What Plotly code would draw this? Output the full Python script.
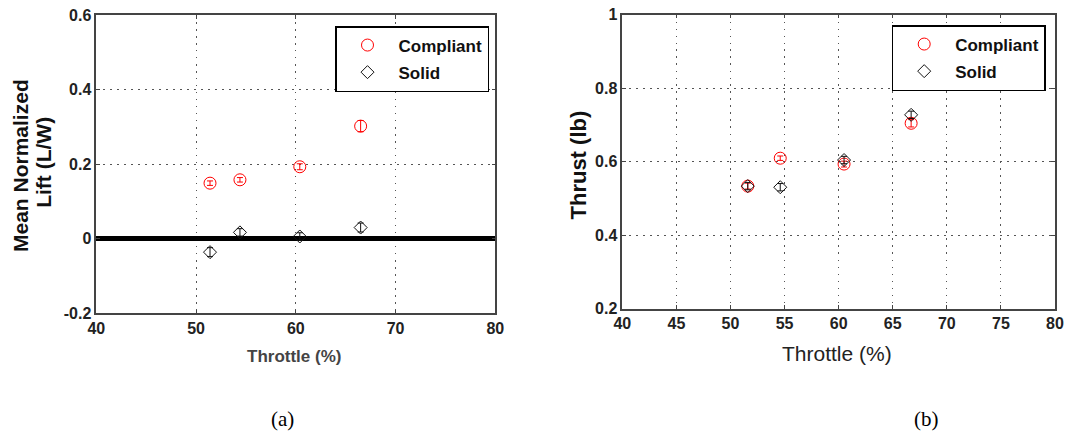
import plotly.graph_objects as go

# ---------------- data ----------------
# (a) Mean normalized lift
throttle_a = [51.4, 54.4, 60.4, 66.5]
lift_compliant = [0.149, 0.158, 0.193, 0.302]
lift_compliant_err = [0.006, 0.006, 0.008, 0.015]
lift_solid = [-0.036, 0.017, 0.006, 0.030]
lift_solid_err = [0.012, 0.010, 0.010, 0.012]

# (b) Thrust
throttle_b = [51.6, 54.6, 60.5, 66.7]
thrust_compliant = [0.533, 0.609, 0.593, 0.704]
thrust_compliant_err = [0.008, 0.006, 0.008, 0.010]
thrust_solid = [0.533, 0.530, 0.604, 0.727]
thrust_solid_err = [0.010, 0.010, 0.010, 0.010]

x_ticks_a = [40, 50, 60, 70, 80]
y_ticks_a = [-0.2, 0, 0.2, 0.4, 0.6]
y_ticklabels_a = ["-0.2", "0", "0.2", "0.4", "0.6"]
x_ticks_b = [40, 45, 50, 55, 60, 65, 70, 75, 80]
y_ticks_b = [0.2, 0.4, 0.6, 0.8, 1.0]
y_ticklabels_b = ["0.2", "0.4", "0.6", "0.8", "1"]

W, H = 1065, 436
RED = "#ff0000"
BLK = "#111111"
SANS = "Liberation Sans"

fig = go.Figure()

def add_series(x, y, err, name, color, symbol, size, xa, ya, legend, group):
    fig.add_trace(go.Scatter(
        x=x, y=y, mode="markers", name=name,
        xaxis=xa, yaxis=ya, legend=legend, legendgroup=group,
        marker=dict(symbol=symbol, size=size, color=color,
                    line=dict(color=color, width=1)),
        error_y=dict(type="data", array=err, color=color, thickness=1, width=3),
    ))

add_series(throttle_a, lift_compliant, lift_compliant_err, "Compliant", RED,
           "circle-open", 12, "x", "y", "legend", "c1")
add_series(throttle_a, lift_solid, lift_solid_err, "Solid", BLK,
           "diamond-open", 10, "x", "y", "legend", "s1")
add_series(throttle_b, thrust_compliant, thrust_compliant_err, "Compliant", RED,
           "circle-open", 12, "x2", "y2", "legend2", "c2")
add_series(throttle_b, thrust_solid, thrust_solid_err, "Solid", BLK,
           "diamond-open", 10, "x2", "y2", "legend2", "s2")

tickfont = dict(family=SANS, size=16, color="#222", weight="bold")
common = dict(
    showline=True, linecolor="#444", linewidth=1.5, mirror="ticks",
    ticks="inside", ticklen=4, tickcolor="#444", tickwidth=1,
    showgrid=True, gridcolor="#555", gridwidth=1.2, griddash="1.5px,5.5px",
    zeroline=False, tickfont=tickfont, automargin=False,
)

def px_x(p):
    return p / W

def px_y(p):
    return 1 - p / H

legend_font = dict(family=SANS, size=17, color="#111", weight="bold")

fig.update_layout(
    width=W, height=H,
    margin=dict(l=0, r=0, t=0, b=0, autoexpand=False),
    paper_bgcolor="white", plot_bgcolor="white",
    xaxis=dict(domain=[px_x(96.3), px_x(495.3)], range=[40, 80],
               tickvals=x_ticks_a, anchor="y", **common),
    yaxis=dict(domain=[px_y(313.3), px_y(15)], range=[-0.2, 0.6],
               tickvals=y_ticks_a, ticktext=y_ticklabels_a, anchor="x",
               **{**common, "zeroline": True, "zerolinecolor": "black",
                  "zerolinewidth": 4.5}),
    xaxis2=dict(domain=[px_x(622.3), px_x(1055)], range=[40, 80],
                tickvals=x_ticks_b, anchor="y2", **common),
    yaxis2=dict(domain=[px_y(308.5), px_y(14.5)], range=[0.2, 1.0],
                tickvals=y_ticks_b, ticktext=y_ticklabels_b, anchor="x2", **common),
    legend=dict(x=px_x(335), xanchor="left", y=px_y(26), yanchor="top",
                bordercolor="black", borderwidth=1.5, bgcolor="white",
                font=legend_font, itemwidth=52, tracegroupgap=2, traceorder="grouped"),
    legend2=dict(x=px_x(891.7), xanchor="left", y=px_y(25), yanchor="top",
                 bordercolor="black", borderwidth=1.5, bgcolor="white",
                 font=legend_font, itemwidth=52, tracegroupgap=2, traceorder="grouped"),
    showlegend=True,
)

def ann(text, x, y, size, family=SANS, angle=0, color="#111", weight="bold"):
    fig.add_annotation(text=text, x=px_x(x), y=px_y(y), xref="paper", yref="paper",
                       showarrow=False, textangle=angle, xanchor="center", yanchor="middle",
                       font=dict(family=family, size=size, color=color, weight=weight))

# axis titles
ann("Mean Normalized", 20, 166, 21, angle=-90)
ann("Lift (L/W)", 43.3, 162.5, 21, angle=-90)
ann("Throttle (%)", 294, 356, 17, color="#444")
ann("Thrust (lb)", 577.5, 165, 22, angle=-90)
ann("Throttle (%)", 836.7, 353, 21, color="#222", weight="normal")

# captions
ann("(a)", 282, 419, 21, family="Liberation Serif", color="black", weight="normal")
ann("(b)", 926, 419, 21, family="Liberation Serif", color="black", weight="normal")

fig.write_html(
    "out.html",
    config={"displayModeBar": False},
    post_script="document.body.style.margin='0';document.body.style.overflow='hidden';",
)
